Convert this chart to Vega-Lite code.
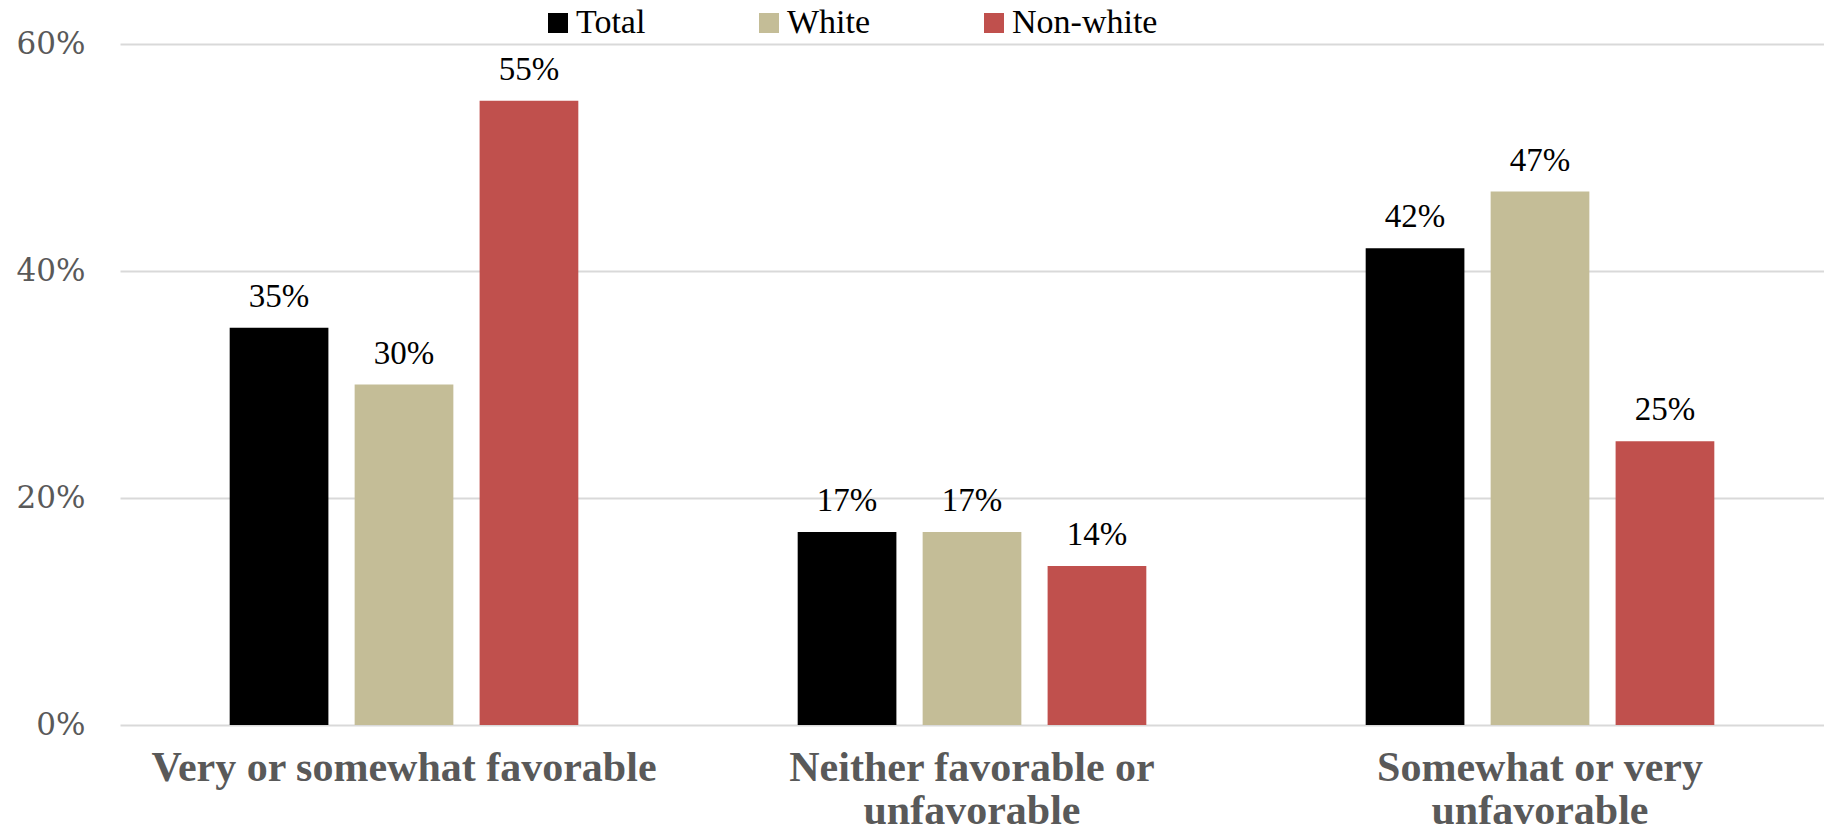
{
  "$schema": "https://vega.github.io/schema/vega-lite/v6.json",
  "width": 1704,
  "height": 681,
  "autosize": "none",
  "padding": {"left": 120, "top": 44, "right": 0, "bottom": 106},
  "background": "white",
  "config": {"view": {"stroke": null}},
  "data": {
    "values": [
      {"group": "Very or somewhat favorable", "series": "Total", "value": 0.35},
      {"group": "Very or somewhat favorable", "series": "White", "value": 0.30},
      {"group": "Very or somewhat favorable", "series": "Non-white", "value": 0.55},
      {"group": "Neither favorable or unfavorable", "series": "Total", "value": 0.17},
      {"group": "Neither favorable or unfavorable", "series": "White", "value": 0.17},
      {"group": "Neither favorable or unfavorable", "series": "Non-white", "value": 0.14},
      {"group": "Somewhat or very unfavorable", "series": "Total", "value": 0.42},
      {"group": "Somewhat or very unfavorable", "series": "White", "value": 0.47},
      {"group": "Somewhat or very unfavorable", "series": "Non-white", "value": 0.25}
    ]
  },
  "encoding": {
    "x": {
      "field": "group",
      "type": "nominal",
      "sort": ["Very or somewhat favorable", "Neither favorable or unfavorable", "Somewhat or very unfavorable"],
      "scale": {"paddingInner": 0.34, "paddingOuter": 0.17},
      "axis": {
        "title": null,
        "labelAngle": 0,
        "domain": false,
        "ticks": false,
        "labelPadding": 22,
        "labelFont": "Liberation Serif",
        "labelFontWeight": "bold",
        "labelFontSize": 42,
        "labelColor": "#595959",
        "labelLineHeight": 43,
        "labelLimit": 0,
        "labelExpr": "datum.label == 'Neither favorable or unfavorable' ? ['Neither favorable or', 'unfavorable'] : datum.label == 'Somewhat or very unfavorable' ? ['Somewhat or very', 'unfavorable'] : datum.label"
      }
    },
    "xOffset": {
      "field": "series",
      "type": "nominal",
      "sort": ["Total", "White", "Non-white"],
      "scale": {"paddingInner": 0.21, "paddingOuter": 0.105}
    },
    "y": {
      "field": "value",
      "type": "quantitative",
      "scale": {"domain": [0, 0.6]},
      "axis": {
        "title": null,
        "format": ".0%",
        "values": [0, 0.2, 0.4, 0.6],
        "grid": true,
        "gridColor": "#d9d9d9",
        "gridWidth": 2,
        "domain": false,
        "ticks": false,
        "labelPadding": 35,
        "labelFont": "DejaVu Serif",
        "labelFontSize": 31,
        "labelColor": "#595959"
      }
    }
  },
  "layer": [
    {
      "mark": {"type": "bar"},
      "encoding": {
        "color": {
          "field": "series",
          "type": "nominal",
          "sort": ["Total", "White", "Non-white"],
          "scale": {"domain": ["Total", "White", "Non-white"], "range": ["#000000", "#c4bd97", "#c0504d"]},
          "legend": {
            "title": null,
            "orient": "none",
            "legendX": 421,
            "legendY": -38,
            "direction": "horizontal",
            "symbolType": "square",
            "symbolSize": 400,
            "symbolStrokeWidth": 0,
            "labelFont": "Liberation Serif",
            "labelFontSize": 34,
            "labelColor": "#000000",
            "labelOffset": 1,
            "columnPadding": 106
          }
        }
      }
    },
    {
      "mark": {"type": "text", "baseline": "bottom", "dy": -14, "font": "Liberation Serif", "fontSize": 33, "color": "#000000"},
      "encoding": {
        "text": {"field": "value", "type": "quantitative", "format": ".0%"}
      }
    }
  ]
}
